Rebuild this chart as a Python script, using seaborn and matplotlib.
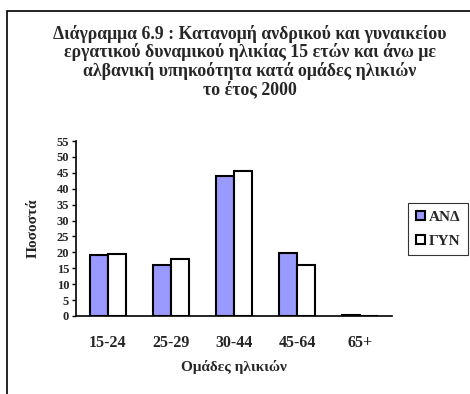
import matplotlib
matplotlib.use("Agg")
import matplotlib.pyplot as plt
import seaborn as sns
import pandas as pd
import numpy as np
from matplotlib.patches import Rectangle

categories = ["15-24", "25-29", "30-44", "45-64", "65+"]
male = [19.2, 16.0, 44.0, 19.9, 0.4]
female = [19.6, 18.0, 45.7, 16.1, 0.0]
series_names = ["ΑΝΔ", "ΓΥΝ"]
colors = ["#9999FF", "#FFFFFF"]
yticks = list(range(0, 60, 5))

df = pd.DataFrame({
    "group": categories * 2,
    "value": male + female,
    "series": [series_names[0]] * len(categories) + [series_names[1]] * len(categories),
})

sns.set_style("white")
plt.rcParams["font.family"] = ["Liberation Serif", "DejaVu Serif"]
plt.rcParams["font.weight"] = "bold"

fig = plt.figure(figsize=(4.7, 3.94), dpi=100)
# outer frame (only left and top visible in crop)
fig.patches.append(Rectangle((7.5 / 470, -0.1), 1.2, 1 - 11.5 / 394 + 0.1,
                             transform=fig.transFigure, fill=False,
                             edgecolor="black", linewidth=1.2))

ax = fig.add_axes([76 / 470, (394 - 316) / 394, (392 - 76) / 470, (316 - 141) / 394])
sns.barplot(data=df, x="group", y="value", hue="series", order=categories,
            hue_order=series_names, palette=colors, width=0.57,
            edgecolor="black", linewidth=1.5, saturation=1, ax=ax, legend=True)

ax.set_ylim(0, 55)
ax.set_xlim(-0.5, 4.5)
ax.set_yticks(yticks)
ax.set_yticklabels([str(t) for t in yticks], fontsize=9, fontweight="bold")
ax.set_xticks(range(len(categories)))
ax.set_xticklabels(categories, fontsize=11.5, fontweight="bold")
ax.set_xticks(np.arange(-0.5, 5, 1), minor=True)
ax.tick_params(axis="x", which="major", length=0, pad=14)
ax.tick_params(axis="x", which="minor", length=3, width=1, direction="out", color="black")
ax.tick_params(axis="y", length=3, width=1, direction="out", color="black", pad=2, left=True)
for s in ["top", "right"]:
    ax.spines[s].set_visible(False)
for s in ["left", "bottom"]:
    ax.spines[s].set_color("black")
    ax.spines[s].set_linewidth(1.2)

ax.set_xlabel("Ομάδες ηλικιών", fontsize=11, fontweight="bold", labelpad=6)
ax.set_ylabel("Ποσοστά", fontsize=11, fontweight="bold", labelpad=12)

leg = ax.legend(loc="upper left", bbox_to_anchor=(408 / 470, 1 - 203 / 394),
                bbox_transform=fig.transFigure, frameon=True, fancybox=False,
                prop={"family": "Liberation Serif", "weight": "bold", "size": 11},
                handlelength=0.6, handleheight=0.6, handletextpad=0.25,
                borderpad=0.5, labelspacing=0.7, borderaxespad=0)
leg.get_frame().set_edgecolor("black")
leg.get_frame().set_linewidth(0.8)

title = ("Διάγραμμα 6.9 : Κατανομή ανδρικού και γυναικείου\n"
         "εργατικού δυναμικού ηλικίας 15 ετών και άνω με\n"
         "αλβανική υπηκοότητα κατά ομάδες ηλικιών\n"
         "το έτος 2000")
fig.text(250 / 470, 1 - 25 / 394, title, ha="center", va="top", fontsize=12.8,
         fontweight="bold", linespacing=1.02)

fig.savefig("out.png", dpi=100)
